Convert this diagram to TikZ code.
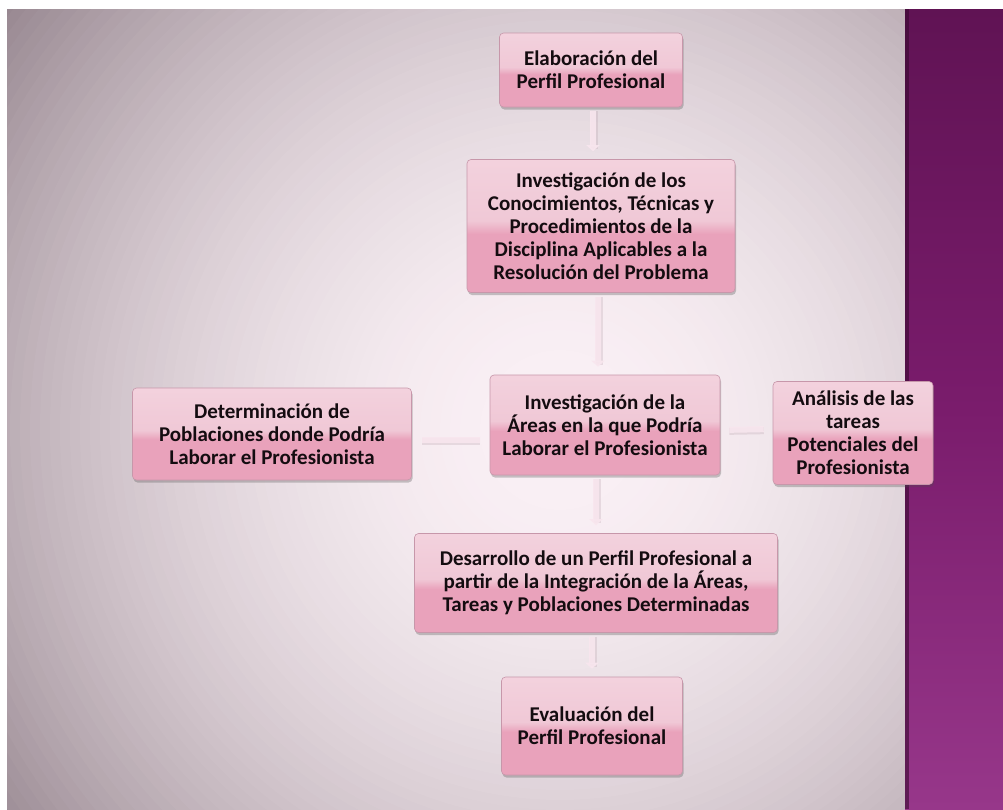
\documentclass[tikz,border=0pt]{standalone}
\usepackage{fontspec}
\setmainfont{Carlito}
\usetikzlibrary{shadows,arrows.meta}
\definecolor{bgc}{HTML}{FAF0F5}
\definecolor{bgo}{HTML}{988891}
\definecolor{pt}{HTML}{460A3C}
\definecolor{pm}{HTML}{7A1C6C}
\definecolor{pb}{HTML}{B452A8}
\definecolor{pedge}{HTML}{3A0A31}
\definecolor{bxt}{HTML}{F6DCE5}
\definecolor{bxu}{HTML}{F0C8D6}
\definecolor{bxm}{HTML}{E9A2BB}
\definecolor{bxb}{HTML}{EFB8CA}
\definecolor{boxline}{HTML}{C797AA}
\definecolor{linkc}{HTML}{F8E6EE}
\definecolor{linksh}{HTML}{B49AA6}
\definecolor{txt}{HTML}{140C10}
\pgfdeclareverticalshading{boxshade}{100bp}{color(0bp)=(bxb); color(10bp)=(bxm); color(47bp)=(bxm); color(52bp)=(bxu); color(100bp)=(bxt)}
\pgfdeclareverticalshading{purpshade}{100bp}{color(0bp)=(pb); color(50bp)=(pm); color(100bp)=(pt)}
\newcommand{\boxfont}{\fontsize{21pt}{23pt}\selectfont\bfseries\color{txt}}
\tikzset{
  box/.style={shade, shading=boxshade, rounded corners=4pt, draw=boxline, line width=0.6pt,
    align=center, font=\boxfont, inner sep=2pt,
    drop shadow={shadow xshift=1pt, shadow yshift=-2.5pt, opacity=0.3, fill=black!70}},
  linkshadow/.style={line width=7pt, draw=linksh, opacity=0.25},
  link/.style={line width=6pt, draw=linkc, opacity=0.9},
  vtip/.style={-{Triangle[width=13pt,length=6pt]}}
}
\begin{document}
\begin{tikzpicture}[x=1pt,y=1pt]
\useasboundingbox (0,0) rectangle (1003,-809);
\fill[white] (0,0) rectangle (1003,-809);
% background
\begin{scope}
\clip (7,-9) rectangle (905,-809);
\fill[bgo] (7,-9) rectangle (905,-809);
\foreach \i in {0,...,69}{
  \pgfmathsetmacro\r{700-\i*10}
  \pgfmathsetmacro\t{100*(1-(\r/700)^2)}
  \fill[bgc!\t!bgo] (560,-430) circle (\r);
}
\end{scope}
\shade[shading=purpshade] (905,-9) rectangle (1003,-809);
\fill[pedge, opacity=0.6] (905,-9) rectangle (909,-809);
% boxes
\node[box, minimum width=183, minimum height=74] (e1) at (591,-70) {Elaboración del\\Perfil Profesional};
\node[box, minimum width=268, minimum height=133] (e2) at (601,-226) {Investigación de los\\Conocimientos, Técnicas y\\Procedimientos de la\\Disciplina Aplicables a la\\Resolución del Problema};
\node[box, minimum width=230, minimum height=100] (e3) at (605,-425) {Investigación de la\\Áreas en la que Podría\\Laborar el Profesionista};
\node[box, minimum width=279, minimum height=92] (e4) at (272,-434) {Determinación de\\Poblaciones donde Podría\\Laborar el Profesionista};
\node[box, minimum width=160, minimum height=103] (e5) at (853,-433) {Análisis de las\\tareas\\Potenciales del\\Profesionista};
\node[box, minimum width=363, minimum height=99] (e6) at (596,-583) {Desarrollo de un Perfil Profesional a\\partir de la Integración de la Áreas,\\Tareas y Poblaciones Determinadas};
\node[box, minimum width=181, minimum height=98] (e7) at (592,-726) {Evaluación del\\Perfil Profesional};
% connectors
\foreach \a/\b/\xa in {e1/e2/2, e2/e3/-3, e3/e6/-9, e6/e7/-4}{
  \draw[linkshadow, shorten <=4pt, shorten >=10pt] ([xshift=\xa+1]\a.south) -- ([xshift=\xa+1]\a.south |- \b.north);
  \draw[link, vtip, shorten <=4pt, shorten >=8pt] ([xshift=\xa]\a.south) -- ([xshift=\xa]\a.south |- \b.north);
}
\draw[linkshadow, shorten <=10pt, shorten >=10pt] ([yshift=-16.5]e3.west) -- ([yshift=-7.5]e4.east);
\draw[link, shorten <=10pt, shorten >=10pt] ([yshift=-15]e3.west) -- ([yshift=-6]e4.east);
\draw[linkshadow, shorten <=9pt, shorten >=9pt] ([yshift=-6.5]e3.east) -- ([yshift=2.5]e5.west);
\draw[link, shorten <=9pt, shorten >=9pt] ([yshift=-5]e3.east) -- ([yshift=4]e5.west);
\end{tikzpicture}
\end{document}
